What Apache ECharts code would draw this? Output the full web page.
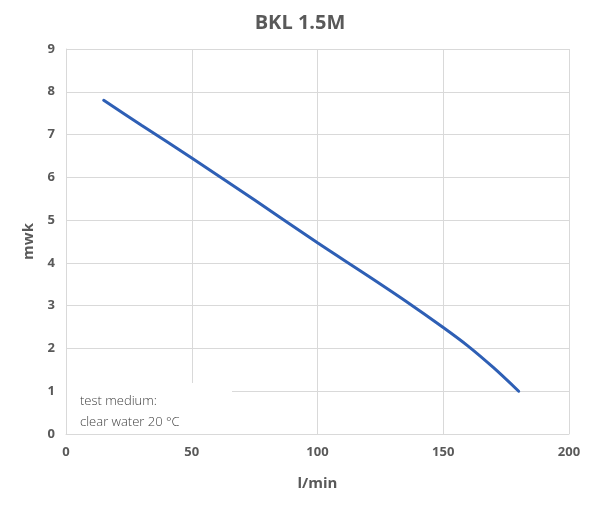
<!DOCTYPE html>
<html><head><meta charset="utf-8">
<script src="https://cdn.jsdelivr.net/npm/echarts@6/dist/echarts.min.js"></script>
<style>html,body{margin:0;padding:0;background:#fff}#c{width:600px;height:512px}</style>
</head><body><div id="c"></div>
<script>
const flowValues = [15, 30, 50, 75, 100, 120, 135, 150, 160, 170, 180];
const headValues = [7.8, 7.22, 6.45, 5.47, 4.47, 3.7, 3.11, 2.49, 2.05, 1.55, 1.0];
const chartTitle = 'BKL 1.5M';
const noteLines = ['test medium:', 'clear water 20 °C'];

const chart = echarts.init(document.getElementById('c'), null, {renderer: 'canvas'});
const font = '"Open Sans", "Noto Sans", sans-serif';
chart.setOption({
  animation: false,
  title: {
    text: chartTitle, left: 'center', top: 8,
    textStyle: {fontFamily: font, fontSize: 20, fontWeight: 'bold', color: '#595959'}
  },
  grid: {left: 66, right: 31, top: 49, bottom: 78},
  xAxis: {
    type: 'value', min: 0, max: 200, interval: 50,
    name: 'l/min', nameLocation: 'middle', nameGap: 42,
    nameTextStyle: {fontFamily: font, fontSize: 15, fontWeight: 'bold', color: '#595959'},
    axisLine: {show: true, lineStyle: {color: '#d9d9d9', width: 1}},
    axisTick: {show: false},
    axisLabel: {fontFamily: font, fontSize: 13, fontWeight: 'bold', color: '#595959', margin: 12},
    splitLine: {show: true, lineStyle: {color: '#d9d9d9', width: 1}}
  },
  yAxis: {
    type: 'value', min: 0, max: 9, interval: 1,
    name: 'mwk', nameLocation: 'middle', nameGap: 30, nameRotate: 90,
    nameTextStyle: {fontFamily: font, fontSize: 15, fontWeight: 'bold', color: '#595959'},
    axisLine: {show: true, lineStyle: {color: '#d9d9d9', width: 1}},
    axisTick: {show: false},
    axisLabel: {fontFamily: font, fontSize: 13, fontWeight: 'bold', color: '#595959', margin: 11},
    splitLine: {show: true, lineStyle: {color: '#d9d9d9', width: 1}}
  },
  series: [{
    type: 'line',
    data: flowValues.map((x, i) => [x, headValues[i]]),
    smooth: 0.3,
    showSymbol: false,
    lineStyle: {color: '#2e5fb5', width: 3, cap: 'round'},
    z: 3
  }],
  graphic: [{
    type: 'rect', left: 67, top: 383, z: 10,
    shape: {width: 165, height: 51},
    style: {fill: '#ffffff'}
  }, {
    type: 'text', left: 80, top: 391, z: 11,
    style: {
      text: noteLines.join('\n'),
      font: '300 13px "Open Sans", "Noto Sans", sans-serif',
      fill: '#404040', lineHeight: 21
    }
  }]
});
</script>
</body></html>
